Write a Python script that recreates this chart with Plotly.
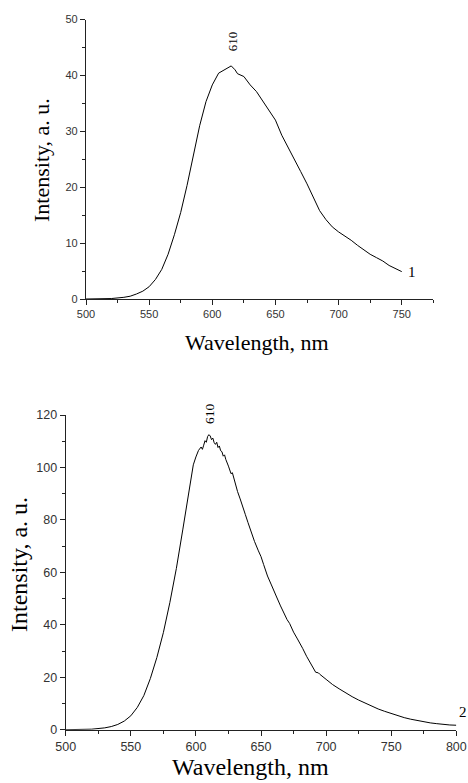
import plotly.graph_objects as go

# Curve 1 (top panel)
wl1 = [500, 510, 520, 530, 535, 540, 545, 550, 555, 560, 565, 570, 575, 580, 585, 590, 595,
       600, 605, 610, 612, 615, 618, 620, 625, 630, 635, 640, 645, 650, 655, 660, 665, 670,
       675, 680, 685, 690, 695, 700, 705, 710, 715, 720, 725, 730, 735, 740, 745, 750]
int1 = [0.0, 0.02, 0.08, 0.3, 0.5, 0.9, 1.4, 2.2, 3.5, 5.3, 8.0, 11.5, 15.5, 20.3, 25.6, 31.0, 35.3,
        38.3, 40.4, 41.0, 41.2, 41.7, 41.0, 40.3, 39.8, 38.3, 37.1, 35.4, 33.6, 32.0, 29.3, 27.2, 24.9, 22.8,
        20.6, 18.2, 15.8, 14.2, 12.9, 12.0, 11.3, 10.5, 9.6, 8.8, 8.0, 7.4, 6.8, 6.0, 5.4, 4.9]

# Curve 2 (bottom panel)
wl2 = [500, 510, 520, 530, 535, 540, 545, 550, 555, 560, 565, 570, 575, 580, 585, 590, 595, 598,
       600, 602, 604, 605, 606, 607, 608, 609, 610, 611, 612, 613, 614, 615, 616, 617, 618, 619,
       620, 621, 622, 623, 625, 627, 628, 630, 632, 634, 636, 638, 640, 642, 645, 648, 650, 652,
       655, 658, 660, 662, 665, 668, 670, 672, 675, 678, 680, 682, 685, 688, 690, 692, 694, 695,
       700, 705, 710, 715, 720, 725, 730, 735, 740, 745, 750, 755, 760, 765, 770, 775, 780, 785,
       790, 795, 800]
int2 = [0.0, 0.05, 0.2, 0.7, 1.2, 2.0, 3.3, 5.3, 8.5, 13.0, 19.5, 27.5, 37.0, 48.5, 61.5, 76.5, 92.0, 101.0,
        104.0, 106.5, 107.8, 106.9, 108.5, 110.2, 109.6, 111.8, 112.5, 112.0, 110.6, 111.2, 109.5, 108.8, 109.6, 107.6, 108.2, 106.4,
        106.0, 104.3, 104.8, 103.0, 100.5, 97.6, 98.0, 94.0, 90.8, 88.0, 85.3, 82.0, 79.0, 75.8, 71.8, 68.2, 66.0, 63.0,
        58.6, 55.2, 53.2, 50.6, 47.2, 44.0, 42.0, 40.5, 37.2, 34.6, 33.0, 31.0, 28.0, 25.4, 23.3, 21.9, 21.7, 21.2,
        19.2, 17.2, 15.6, 14.0, 12.6, 11.3, 10.1, 9.0, 7.9, 7.0, 6.1, 5.3, 4.6, 4.0, 3.5, 3.0, 2.6, 2.3,
        2.0, 1.8, 1.7]

x_title = "Wavelength, nm"
y_title = "Intensity, a. u."
peak_label = "610"

W, H = 468, 783
serif = "Liberation Serif, Times New Roman, serif"
sans = "Liberation Sans, Arial, sans-serif"
axcol = "#222222"

fig = go.Figure()
fig.add_trace(go.Scatter(x=wl1, y=int1, mode="lines", line=dict(color="black", width=1),
                         xaxis="x", yaxis="y", showlegend=False, hoverinfo="skip"))
fig.add_trace(go.Scatter(x=wl2, y=int2, mode="lines", line=dict(color="black", width=1),
                         xaxis="x2", yaxis="y2", showlegend=False, hoverinfo="skip"))

def ax(domain, rng, dtick, minor, anchor, fsize):
    return dict(domain=domain, range=rng, dtick=dtick, tick0=0, anchor=anchor, automargin=False,
                showline=True, linecolor=axcol, linewidth=1.2, showgrid=False, zeroline=False,
                ticks="outside", ticklen=5, tickwidth=1, tickcolor=axcol,
                tickfont=dict(family=sans, size=fsize, color="#333333"),
                minor=dict(ticks="outside", ticklen=3, tickwidth=1, tickcolor=axcol, dtick=minor, showgrid=False),
                fixedrange=True)

# top panel pixel box: x 86..433, y 19.5..299 ; bottom: x 65.7..456.3, y 415..729.7
fig.update_layout(
    width=W, height=H, margin=dict(l=0, r=0, t=0, b=0, autoexpand=False),
    paper_bgcolor="white", plot_bgcolor="white",
    xaxis=ax([86 / W, 433.3 / W], [500, 775], 50, 25, "y", 11),
    yaxis=ax([1 - 299 / H, 1 - 19.5 / H], [0, 50], 10, 5, "x", 11),
    xaxis2=ax([65.7 / W, 456.3 / W], [500, 800], 50, 25, "y2", 12.5),
    yaxis2=ax([1 - 729.7 / H, 1 - 415 / H], [0, 120], 20, 10, "x2", 12.5),
)

anns = [
    dict(text=x_title, xref="paper", yref="paper", x=257 / W, y=1 - 342 / H,
         font=dict(family=serif, size=22, color="black")),
    dict(text=y_title, xref="paper", yref="paper", x=41 / W, y=1 - 160 / H, textangle=-90,
         font=dict(family=serif, size=22, color="black")),
    dict(text=x_title, xref="paper", yref="paper", x=250 / W, y=1 - 767 / H,
         font=dict(family=serif, size=24, color="black")),
    dict(text=y_title, xref="paper", yref="paper", x=19 / W, y=1 - 565 / H, textangle=-90,
         font=dict(family=serif, size=24, color="black")),
    dict(text=peak_label, xref="x", yref="y", x=616, y=46, textangle=-90,
         font=dict(family=serif, size=13, color="black")),
    dict(text=peak_label, xref="x2", yref="paper", x=610, y=1 - 413 / H, textangle=-90,
         font=dict(family=serif, size=13.5, color="black")),
    dict(text="1", xref="x", yref="y", x=758.3, y=4.8,
         font=dict(family=serif, size=15, color="black")),
    dict(text="2", xref="paper", yref="paper", x=463 / W, y=1 - 712 / H,
         font=dict(family=serif, size=15, color="black")),
]
for a in anns:
    a.update(showarrow=False, xanchor="center", yanchor="middle")
fig.update_layout(annotations=anns)

fig.write_html("out.html")
